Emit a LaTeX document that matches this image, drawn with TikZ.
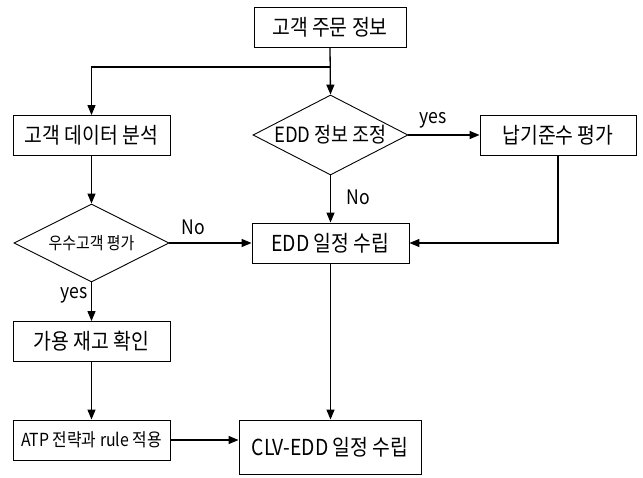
\documentclass[tikz,border=0pt]{standalone}
\usepackage{fontspec}
\setmainfont{Noto Sans CJK KR}[FakeStretch=0.88]
\usetikzlibrary{shapes.geometric,arrows.meta}
\begin{document}
\begin{tikzpicture}[x=1pt,y=1pt,
  box/.style={draw,line width=0.9pt,inner sep=0pt,minimum width=#1,minimum height=40pt,font=\fontsize{22}{24}\selectfont},
  dia/.style={draw,diamond,line width=0.9pt,inner sep=0pt,minimum width=155pt,minimum height=78pt},
  dialab/.style={font=\fontsize{21}{24}\selectfont,inner sep=0pt},
  conn/.style={line width=1.3pt,-{Triangle[length=10pt,width=8pt]}},
  lab/.style={font=\fontsize{20}{22}\selectfont,inner sep=0pt}]
\useasboundingbox (0,0) rectangle (643,-477);
\node[box=152pt] (top) at (330,-27) {고객 주문 정보};
\node[box=157pt] (cda) at (91.5,-135.5) {고객 데이터 분석};
\node[dia,minimum height=80pt] (edd1) at (330.5,-135) {};
\node[dialab] (edd1t) at (edd1.center) {EDD 정보 조정};
\node[box=156pt] (napgi) at (558,-135) {납기준수 평가};
\node[box=157pt] (edd2) at (330.5,-243) {EDD 일정 수립};
\node[dia] (good) at (91.5,-243) {};
\node[dialab,font=\fontsize{17}{20}\selectfont] (goodt) at (good.center) {우수고객 평가};
\node[box=157pt] (stock) at (91.5,-341.5) {가용 재고 확인};
\node[box=157pt,font=\fontsize{18}{20}\selectfont] (atp) at (91.5,-440) {ATP 전략과 rule 적용};
\node[box=182pt,minimum height=54pt] (clv) at (330,-447) {CLV-EDD 일정 수립};
\coordinate (br) at (330,-67);
\draw[conn] (top.south) -- (edd1.north);
\draw[conn] (br) -| (cda.north);
\draw[conn] (edd1.east) -- (napgi.west);
\draw[conn] (edd1.south) -- (edd2.north);
\draw[conn] (napgi.south) |- (edd2.east);
\draw[conn] (cda.south) -- (good.north);
\draw[conn] (good.east) -- (edd2.west);
\draw[conn] (good.south) -- (stock.north);
\draw[conn] (stock.south) -- (atp.north);
\draw[conn] (atp.east) -- (atp.east -| clv.west);
\draw[conn] (edd2.south) -- (edd2.south |- clv.north);
\node[lab] (ly1) at (433,-120) {yes};
\node[lab] (ln1) at (358,-197) {No};
\node[lab] (ln2) at (193,-227) {No};
\node[lab] (ly2) at (74,-295) {yes};
\end{tikzpicture}
\end{document}
